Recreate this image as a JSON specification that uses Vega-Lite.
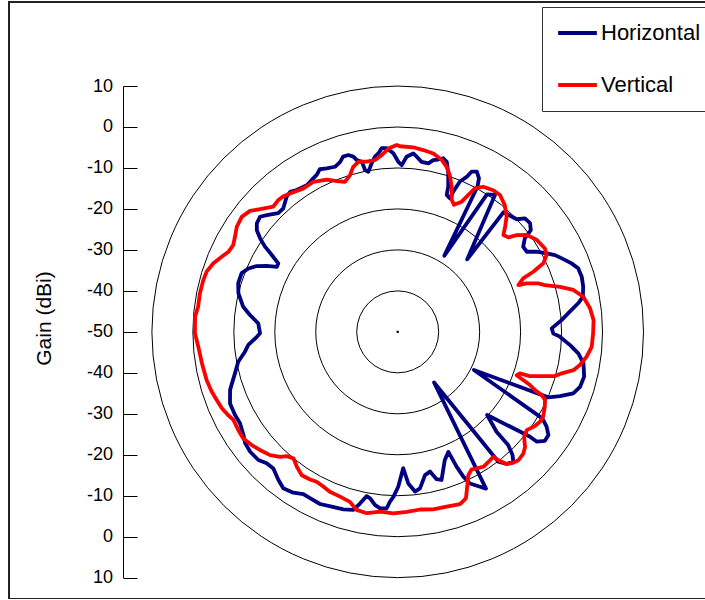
{
  "$schema": "https://vega.github.io/schema/vega-lite/v6.json",
  "width": 705,
  "height": 597,
  "autosize": "none",
  "padding": {"left": 9, "top": 2, "right": 0, "bottom": 0},
  "background": "white",
  "config": {
    "font": "Liberation Sans",
    "view": {"stroke": "#222222", "strokeWidth": 2},
    "legend": {
      "orient": "none",
      "legendX": 533,
      "legendY": 5,
      "symbolType": "stroke",
      "symbolSize": 1500,
      "symbolStrokeWidth": 4,
      "labelFontSize": 22,
      "labelFont": "Liberation Sans",
      "labelColor": "black",
      "labelOffset": 2,
      "labelLimit": 0,
      "clipHeight": 40,
      "rowPadding": 12,
      "padding": 6,
      "symbolOffset": 8,
      "strokeColor": "#333333",
      "fillColor": "white"
    }
  },
  "datasets": {
    "rings": [
      {"gain": -40}, {"gain": -30}, {"gain": -20}, {"gain": -10}, {"gain": 0}, {"gain": 10}
    ],
    "pattern": [
      {"pol": "Horizontal", "deg": 0.2, "dbi": -8.5},
      {"pol": "Horizontal", "deg": 1.4, "dbi": -9.3},
      {"pol": "Horizontal", "deg": 2.9, "dbi": -7.2},
      {"pol": "Horizontal", "deg": 5.0, "dbi": -6.3},
      {"pol": "Horizontal", "deg": 6.2, "dbi": -7.0},
      {"pol": "Horizontal", "deg": 8.0, "dbi": -8.1},
      {"pol": "Horizontal", "deg": 10.3, "dbi": -8.2},
      {"pol": "Horizontal", "deg": 11.7, "dbi": -7.2},
      {"pol": "Horizontal", "deg": 13.2, "dbi": -6.8},
      {"pol": "Horizontal", "deg": 14.7, "dbi": -6.2},
      {"pol": "Horizontal", "deg": 16.1, "dbi": -6.8},
      {"pol": "Horizontal", "deg": 17.7, "dbi": -9.4},
      {"pol": "Horizontal", "deg": 19.2, "dbi": -12.5},
      {"pol": "Horizontal", "deg": 19.7, "dbi": -14.5},
      {"pol": "Horizontal", "deg": 21.4, "dbi": -15.0},
      {"pol": "Horizontal", "deg": 21.6, "dbi": -13.2},
      {"pol": "Horizontal", "deg": 22.5, "dbi": -10.3},
      {"pol": "Horizontal", "deg": 24.0, "dbi": -8.6},
      {"pol": "Horizontal", "deg": 24.8, "dbi": -6.9},
      {"pol": "Horizontal", "deg": 26.3, "dbi": -6.4},
      {"pol": "Horizontal", "deg": 27.9, "dbi": -7.6},
      {"pol": "Horizontal", "deg": 28.8, "dbi": -9.6},
      {"pol": "Horizontal", "deg": 31.5, "dbi": -28.2},
      {"pol": "Horizontal", "deg": 33.0, "dbi": -10.0},
      {"pol": "Horizontal", "deg": 35.4, "dbi": -9.0},
      {"pol": "Horizontal", "deg": 43.8, "dbi": -25.5},
      {"pol": "Horizontal", "deg": 41.5, "dbi": -11.0},
      {"pol": "Horizontal", "deg": 46.6, "dbi": -10.0},
      {"pol": "Horizontal", "deg": 48.3, "dbi": -8.4},
      {"pol": "Horizontal", "deg": 50.6, "dbi": -8.2},
      {"pol": "Horizontal", "deg": 52.6, "dbi": -9.1},
      {"pol": "Horizontal", "deg": 53.7, "dbi": -11.5},
      {"pol": "Horizontal", "deg": 55.9, "dbi": -13.0},
      {"pol": "Horizontal", "deg": 58.2, "dbi": -12.9},
      {"pol": "Horizontal", "deg": 60.0, "dbi": -10.9},
      {"pol": "Horizontal", "deg": 62.2, "dbi": -8.9},
      {"pol": "Horizontal", "deg": 64.0, "dbi": -7.3},
      {"pol": "Horizontal", "deg": 65.9, "dbi": -6.1},
      {"pol": "Horizontal", "deg": 68.5, "dbi": -4.4},
      {"pol": "Horizontal", "deg": 70.6, "dbi": -3.3},
      {"pol": "Horizontal", "deg": 73.3, "dbi": -3.1},
      {"pol": "Horizontal", "deg": 76.3, "dbi": -3.4},
      {"pol": "Horizontal", "deg": 79.3, "dbi": -4.0},
      {"pol": "Horizontal", "deg": 81.0, "dbi": -5.4},
      {"pol": "Horizontal", "deg": 83.3, "dbi": -7.7},
      {"pol": "Horizontal", "deg": 85.9, "dbi": -9.9},
      {"pol": "Horizontal", "deg": 88.7, "dbi": -12.4},
      {"pol": "Horizontal", "deg": 90.6, "dbi": -12.0},
      {"pol": "Horizontal", "deg": 91.7, "dbi": -10.4},
      {"pol": "Horizontal", "deg": 94.4, "dbi": -7.8},
      {"pol": "Horizontal", "deg": 96.8, "dbi": -5.6},
      {"pol": "Horizontal", "deg": 99.6, "dbi": -4.0},
      {"pol": "Horizontal", "deg": 103.5, "dbi": -3.2},
      {"pol": "Horizontal", "deg": 106.8, "dbi": -3.5},
      {"pol": "Horizontal", "deg": 109.3, "dbi": -4.6},
      {"pol": "Horizontal", "deg": 111.6, "dbi": -7.4},
      {"pol": "Horizontal", "deg": 113.5, "dbi": -9.9},
      {"pol": "Horizontal", "deg": 116.6, "dbi": -29.2},
      {"pol": "Horizontal", "deg": 120.8, "dbi": -9.6},
      {"pol": "Horizontal", "deg": 121.2, "dbi": -8.5},
      {"pol": "Horizontal", "deg": 122.5, "dbi": -6.9},
      {"pol": "Horizontal", "deg": 124.4, "dbi": -5.4},
      {"pol": "Horizontal", "deg": 126.5, "dbi": -5.3},
      {"pol": "Horizontal", "deg": 128.3, "dbi": -6.8},
      {"pol": "Horizontal", "deg": 128.4, "dbi": -8.8},
      {"pol": "Horizontal", "deg": 128.9, "dbi": -10.6},
      {"pol": "Horizontal", "deg": 132.9, "dbi": -20.2},
      {"pol": "Horizontal", "deg": 135.3, "dbi": -15.7},
      {"pol": "Horizontal", "deg": 135.7, "dbi": -11.4},
      {"pol": "Horizontal", "deg": 137.0, "dbi": -8.9},
      {"pol": "Horizontal", "deg": 138.3, "dbi": -7.6},
      {"pol": "Horizontal", "deg": 140.5, "dbi": -8.2},
      {"pol": "Horizontal", "deg": 142.2, "dbi": -9.9},
      {"pol": "Horizontal", "deg": 144.3, "dbi": -34.8},
      {"pol": "Horizontal", "deg": 150.6, "dbi": -6.1},
      {"pol": "Horizontal", "deg": 152.0, "dbi": -7.2},
      {"pol": "Horizontal", "deg": 154.5, "dbi": -9.0},
      {"pol": "Horizontal", "deg": 155.6, "dbi": -11.2},
      {"pol": "Horizontal", "deg": 156.4, "dbi": -14.1},
      {"pol": "Horizontal", "deg": 157.1, "dbi": -18.2},
      {"pol": "Horizontal", "deg": 159.8, "dbi": -16.7},
      {"pol": "Horizontal", "deg": 163.5, "dbi": -12.3},
      {"pol": "Horizontal", "deg": 165.2, "dbi": -12.8},
      {"pol": "Horizontal", "deg": 167.0, "dbi": -15.0},
      {"pol": "Horizontal", "deg": 169.2, "dbi": -14.4},
      {"pol": "Horizontal", "deg": 171.9, "dbi": -11.4},
      {"pol": "Horizontal", "deg": 173.8, "dbi": -10.8},
      {"pol": "Horizontal", "deg": 176.0, "dbi": -12.9},
      {"pol": "Horizontal", "deg": 177.7, "dbi": -16.7},
      {"pol": "Horizontal", "deg": 179.8, "dbi": -12.2},
      {"pol": "Horizontal", "deg": 181.5, "dbi": -9.7},
      {"pol": "Horizontal", "deg": 182.6, "dbi": -8.5},
      {"pol": "Horizontal", "deg": 183.6, "dbi": -6.8},
      {"pol": "Horizontal", "deg": 185.7, "dbi": -6.7},
      {"pol": "Horizontal", "deg": 187.5, "dbi": -7.4},
      {"pol": "Horizontal", "deg": 189.4, "dbi": -8.8},
      {"pol": "Horizontal", "deg": 190.7, "dbi": -9.2},
      {"pol": "Horizontal", "deg": 192.4, "dbi": -7.1},
      {"pol": "Horizontal", "deg": 194.0, "dbi": -5.2},
      {"pol": "Horizontal", "deg": 197.0, "dbi": -4.7},
      {"pol": "Horizontal", "deg": 200.7, "dbi": -4.4},
      {"pol": "Horizontal", "deg": 204.3, "dbi": -3.9},
      {"pol": "Horizontal", "deg": 207.8, "dbi": -4.1},
      {"pol": "Horizontal", "deg": 210.2, "dbi": -4.2},
      {"pol": "Horizontal", "deg": 213.0, "dbi": -3.2},
      {"pol": "Horizontal", "deg": 216.2, "dbi": -2.7},
      {"pol": "Horizontal", "deg": 218.9, "dbi": -3.6},
      {"pol": "Horizontal", "deg": 222.3, "dbi": -4.9},
      {"pol": "Horizontal", "deg": 224.9, "dbi": -4.7},
      {"pol": "Horizontal", "deg": 227.4, "dbi": -3.8},
      {"pol": "Horizontal", "deg": 230.9, "dbi": -3.6},
      {"pol": "Horizontal", "deg": 233.9, "dbi": -3.9},
      {"pol": "Horizontal", "deg": 236.2, "dbi": -4.7},
      {"pol": "Horizontal", "deg": 239.9, "dbi": -5.5},
      {"pol": "Horizontal", "deg": 242.9, "dbi": -5.4},
      {"pol": "Horizontal", "deg": 246.9, "dbi": -5.5},
      {"pol": "Horizontal", "deg": 250.9, "dbi": -6.7},
      {"pol": "Horizontal", "deg": 255.7, "dbi": -9.0},
      {"pol": "Horizontal", "deg": 259.4, "dbi": -10.4},
      {"pol": "Horizontal", "deg": 262.6, "dbi": -12.4},
      {"pol": "Horizontal", "deg": 265.0, "dbi": -13.4},
      {"pol": "Horizontal", "deg": 268.0, "dbi": -15.6},
      {"pol": "Horizontal", "deg": 269.4, "dbi": -16.4},
      {"pol": "Horizontal", "deg": 273.5, "dbi": -15.9},
      {"pol": "Horizontal", "deg": 276.5, "dbi": -13.7},
      {"pol": "Horizontal", "deg": 279.2, "dbi": -11.8},
      {"pol": "Horizontal", "deg": 283.6, "dbi": -10.0},
      {"pol": "Horizontal", "deg": 286.9, "dbi": -9.3},
      {"pol": "Horizontal", "deg": 290.6, "dbi": -9.3},
      {"pol": "Horizontal", "deg": 293.0, "dbi": -10.4},
      {"pol": "Horizontal", "deg": 295.0, "dbi": -12.0},
      {"pol": "Horizontal", "deg": 296.7, "dbi": -14.2},
      {"pol": "Horizontal", "deg": 298.3, "dbi": -16.5},
      {"pol": "Horizontal", "deg": 299.8, "dbi": -16.4},
      {"pol": "Horizontal", "deg": 301.4, "dbi": -14.0},
      {"pol": "Horizontal", "deg": 302.7, "dbi": -11.5},
      {"pol": "Horizontal", "deg": 304.2, "dbi": -9.4},
      {"pol": "Horizontal", "deg": 305.8, "dbi": -7.6},
      {"pol": "Horizontal", "deg": 307.6, "dbi": -6.6},
      {"pol": "Horizontal", "deg": 309.9, "dbi": -6.2},
      {"pol": "Horizontal", "deg": 311.7, "dbi": -7.2},
      {"pol": "Horizontal", "deg": 314.8, "dbi": -8.9},
      {"pol": "Horizontal", "deg": 317.2, "dbi": -8.9},
      {"pol": "Horizontal", "deg": 320.6, "dbi": -7.3},
      {"pol": "Horizontal", "deg": 322.5, "dbi": -6.9},
      {"pol": "Horizontal", "deg": 324.5, "dbi": -7.5},
      {"pol": "Horizontal", "deg": 328.2, "dbi": -7.9},
      {"pol": "Horizontal", "deg": 330.5, "dbi": -7.4},
      {"pol": "Horizontal", "deg": 332.7, "dbi": -6.9},
      {"pol": "Horizontal", "deg": 334.4, "dbi": -6.0},
      {"pol": "Horizontal", "deg": 336.5, "dbi": -6.5},
      {"pol": "Horizontal", "deg": 339.2, "dbi": -6.9},
      {"pol": "Horizontal", "deg": 341.3, "dbi": -6.2},
      {"pol": "Horizontal", "deg": 342.7, "dbi": -5.2},
      {"pol": "Horizontal", "deg": 344.4, "dbi": -5.2},
      {"pol": "Horizontal", "deg": 345.8, "dbi": -5.9},
      {"pol": "Horizontal", "deg": 346.6, "dbi": -6.9},
      {"pol": "Horizontal", "deg": 348.1, "dbi": -7.6},
      {"pol": "Horizontal", "deg": 348.6, "dbi": -9.7},
      {"pol": "Horizontal", "deg": 349.6, "dbi": -10.3},
      {"pol": "Horizontal", "deg": 351.2, "dbi": -8.4},
      {"pol": "Horizontal", "deg": 352.6, "dbi": -6.9},
      {"pol": "Horizontal", "deg": 353.8, "dbi": -6.2},
      {"pol": "Horizontal", "deg": 355.0, "dbi": -5.0},
      {"pol": "Horizontal", "deg": 356.6, "dbi": -5.1},
      {"pol": "Horizontal", "deg": 358.6, "dbi": -6.4},
      {"pol": "Horizontal", "deg": 360.2, "dbi": -8.5},

      {"pol": "Vertical", "deg": 0.7, "dbi": -4.7},
      {"pol": "Vertical", "deg": 4.8, "dbi": -4.8},
      {"pol": "Vertical", "deg": 8.0, "dbi": -5.2},
      {"pol": "Vertical", "deg": 11.3, "dbi": -5.6},
      {"pol": "Vertical", "deg": 14.4, "dbi": -6.7},
      {"pol": "Vertical", "deg": 16.5, "dbi": -8.0},
      {"pol": "Vertical", "deg": 18.4, "dbi": -9.7},
      {"pol": "Vertical", "deg": 20.4, "dbi": -12.2},
      {"pol": "Vertical", "deg": 22.3, "dbi": -15.2},
      {"pol": "Vertical", "deg": 23.9, "dbi": -16.1},
      {"pol": "Vertical", "deg": 26.2, "dbi": -14.6},
      {"pol": "Vertical", "deg": 27.3, "dbi": -12.4},
      {"pol": "Vertical", "deg": 28.3, "dbi": -10.2},
      {"pol": "Vertical", "deg": 30.5, "dbi": -8.9},
      {"pol": "Vertical", "deg": 34.0, "dbi": -8.3},
      {"pol": "Vertical", "deg": 36.8, "dbi": -8.3},
      {"pol": "Vertical", "deg": 40.2, "dbi": -9.5},
      {"pol": "Vertical", "deg": 43.4, "dbi": -11.3},
      {"pol": "Vertical", "deg": 45.6, "dbi": -13.3},
      {"pol": "Vertical", "deg": 47.5, "dbi": -15.0},
      {"pol": "Vertical", "deg": 49.5, "dbi": -14.5},
      {"pol": "Vertical", "deg": 50.9, "dbi": -12.6},
      {"pol": "Vertical", "deg": 53.1, "dbi": -10.6},
      {"pol": "Vertical", "deg": 56.6, "dbi": -9.3},
      {"pol": "Vertical", "deg": 60.5, "dbi": -8.7},
      {"pol": "Vertical", "deg": 62.7, "dbi": -9.1},
      {"pol": "Vertical", "deg": 64.8, "dbi": -10.7},
      {"pol": "Vertical", "deg": 66.1, "dbi": -13.8},
      {"pol": "Vertical", "deg": 66.9, "dbi": -16.7},
      {"pol": "Vertical", "deg": 68.8, "dbi": -18.4},
      {"pol": "Vertical", "deg": 69.4, "dbi": -16.4},
      {"pol": "Vertical", "deg": 71.0, "dbi": -13.7},
      {"pol": "Vertical", "deg": 72.4, "dbi": -12.3},
      {"pol": "Vertical", "deg": 74.5, "dbi": -8.9},
      {"pol": "Vertical", "deg": 76.6, "dbi": -5.9},
      {"pol": "Vertical", "deg": 79.3, "dbi": -3.9},
      {"pol": "Vertical", "deg": 83.0, "dbi": -2.7},
      {"pol": "Vertical", "deg": 86.6, "dbi": -2.1},
      {"pol": "Vertical", "deg": 90.4, "dbi": -2.3},
      {"pol": "Vertical", "deg": 94.4, "dbi": -2.5},
      {"pol": "Vertical", "deg": 97.5, "dbi": -3.5},
      {"pol": "Vertical", "deg": 100.3, "dbi": -4.8},
      {"pol": "Vertical", "deg": 102.3, "dbi": -6.1},
      {"pol": "Vertical", "deg": 104.2, "dbi": -8.7},
      {"pol": "Vertical", "deg": 105.7, "dbi": -10.1},
      {"pol": "Vertical", "deg": 106.9, "dbi": -12.9},
      {"pol": "Vertical", "deg": 108.5, "dbi": -16.0},
      {"pol": "Vertical", "deg": 108.8, "dbi": -18.5},
      {"pol": "Vertical", "deg": 110.0, "dbi": -19.1},
      {"pol": "Vertical", "deg": 111.0, "dbi": -17.2},
      {"pol": "Vertical", "deg": 111.9, "dbi": -15.2},
      {"pol": "Vertical", "deg": 113.0, "dbi": -13.6},
      {"pol": "Vertical", "deg": 113.7, "dbi": -11.6},
      {"pol": "Vertical", "deg": 114.8, "dbi": -10.4},
      {"pol": "Vertical", "deg": 117.0, "dbi": -9.7},
      {"pol": "Vertical", "deg": 120.3, "dbi": -8.9},
      {"pol": "Vertical", "deg": 122.3, "dbi": -8.9},
      {"pol": "Vertical", "deg": 124.5, "dbi": -9.4},
      {"pol": "Vertical", "deg": 127.3, "dbi": -10.4},
      {"pol": "Vertical", "deg": 129.7, "dbi": -9.9},
      {"pol": "Vertical", "deg": 132.1, "dbi": -8.1},
      {"pol": "Vertical", "deg": 134.1, "dbi": -7.3},
      {"pol": "Vertical", "deg": 136.8, "dbi": -7.0},
      {"pol": "Vertical", "deg": 138.6, "dbi": -7.4},
      {"pol": "Vertical", "deg": 140.5, "dbi": -8.2},
      {"pol": "Vertical", "deg": 141.9, "dbi": -10.2},
      {"pol": "Vertical", "deg": 142.6, "dbi": -11.6},
      {"pol": "Vertical", "deg": 144.3, "dbi": -11.4},
      {"pol": "Vertical", "deg": 147.6, "dbi": -11.0},
      {"pol": "Vertical", "deg": 149.9, "dbi": -11.5},
      {"pol": "Vertical", "deg": 151.7, "dbi": -11.9},
      {"pol": "Vertical", "deg": 153.8, "dbi": -11.0},
      {"pol": "Vertical", "deg": 155.8, "dbi": -8.6},
      {"pol": "Vertical", "deg": 157.7, "dbi": -6.1},
      {"pol": "Vertical", "deg": 160.1, "dbi": -5.3},
      {"pol": "Vertical", "deg": 164.4, "dbi": -5.7},
      {"pol": "Vertical", "deg": 168.7, "dbi": -5.8},
      {"pol": "Vertical", "deg": 172.8, "dbi": -6.3},
      {"pol": "Vertical", "deg": 177.1, "dbi": -6.0},
      {"pol": "Vertical", "deg": 181.4, "dbi": -5.7},
      {"pol": "Vertical", "deg": 185.6, "dbi": -5.9},
      {"pol": "Vertical", "deg": 189.7, "dbi": -5.1},
      {"pol": "Vertical", "deg": 193.0, "dbi": -5.4},
      {"pol": "Vertical", "deg": 195.7, "dbi": -6.9},
      {"pol": "Vertical", "deg": 199.3, "dbi": -7.4},
      {"pol": "Vertical", "deg": 203.0, "dbi": -7.6},
      {"pol": "Vertical", "deg": 205.7, "dbi": -8.1},
      {"pol": "Vertical", "deg": 208.4, "dbi": -8.4},
      {"pol": "Vertical", "deg": 210.7, "dbi": -8.1},
      {"pol": "Vertical", "deg": 213.8, "dbi": -7.9},
      {"pol": "Vertical", "deg": 216.8, "dbi": -8.9},
      {"pol": "Vertical", "deg": 219.5, "dbi": -10.0},
      {"pol": "Vertical", "deg": 221.8, "dbi": -9.3},
      {"pol": "Vertical", "deg": 223.3, "dbi": -8.1},
      {"pol": "Vertical", "deg": 226.0, "dbi": -6.7},
      {"pol": "Vertical", "deg": 229.4, "dbi": -5.7},
      {"pol": "Vertical", "deg": 232.2, "dbi": -4.9},
      {"pol": "Vertical", "deg": 235.4, "dbi": -4.2},
      {"pol": "Vertical", "deg": 238.4, "dbi": -4.3},
      {"pol": "Vertical", "deg": 241.8, "dbi": -4.5},
      {"pol": "Vertical", "deg": 243.8, "dbi": -3.9},
      {"pol": "Vertical", "deg": 246.5, "dbi": -3.2},
      {"pol": "Vertical", "deg": 249.4, "dbi": -2.8},
      {"pol": "Vertical", "deg": 252.2, "dbi": -2.3},
      {"pol": "Vertical", "deg": 255.8, "dbi": -1.9},
      {"pol": "Vertical", "deg": 260.9, "dbi": -1.6},
      {"pol": "Vertical", "deg": 265.7, "dbi": -1.2},
      {"pol": "Vertical", "deg": 269.6, "dbi": -0.5},
      {"pol": "Vertical", "deg": 274.3, "dbi": -0.4},
      {"pol": "Vertical", "deg": 277.2, "dbi": -0.9},
      {"pol": "Vertical", "deg": 281.0, "dbi": -0.8},
      {"pol": "Vertical", "deg": 284.9, "dbi": -0.9},
      {"pol": "Vertical", "deg": 287.5, "dbi": -1.1},
      {"pol": "Vertical", "deg": 290.4, "dbi": -2.0},
      {"pol": "Vertical", "deg": 293.1, "dbi": -3.3},
      {"pol": "Vertical", "deg": 295.3, "dbi": -4.3},
      {"pol": "Vertical", "deg": 297.8, "dbi": -4.6},
      {"pol": "Vertical", "deg": 300.3, "dbi": -4.0},
      {"pol": "Vertical", "deg": 303.1, "dbi": -3.1},
      {"pol": "Vertical", "deg": 306.4, "dbi": -2.7},
      {"pol": "Vertical", "deg": 309.3, "dbi": -3.4},
      {"pol": "Vertical", "deg": 311.7, "dbi": -5.0},
      {"pol": "Vertical", "deg": 315.2, "dbi": -6.9},
      {"pol": "Vertical", "deg": 317.8, "dbi": -6.6},
      {"pol": "Vertical", "deg": 319.9, "dbi": -6.7},
      {"pol": "Vertical", "deg": 322.1, "dbi": -7.2},
      {"pol": "Vertical", "deg": 326.7, "dbi": -8.1},
      {"pol": "Vertical", "deg": 330.7, "dbi": -8.0},
      {"pol": "Vertical", "deg": 335.0, "dbi": -9.0},
      {"pol": "Vertical", "deg": 338.0, "dbi": -10.3},
      {"pol": "Vertical", "deg": 340.6, "dbi": -11.2},
      {"pol": "Vertical", "deg": 343.1, "dbi": -10.0},
      {"pol": "Vertical", "deg": 344.9, "dbi": -8.3},
      {"pol": "Vertical", "deg": 347.0, "dbi": -7.4},
      {"pol": "Vertical", "deg": 349.7, "dbi": -7.8},
      {"pol": "Vertical", "deg": 352.5, "dbi": -7.7},
      {"pol": "Vertical", "deg": 354.8, "dbi": -6.7},
      {"pol": "Vertical", "deg": 357.1, "dbi": -5.2},
      {"pol": "Vertical", "deg": 359.7, "dbi": -4.4},
      {"pol": "Vertical", "deg": 360.7, "dbi": -4.7}
    ]
  },
  "layer": [
    {
      "data": {"name": "rings"},
      "mark": {"type": "arc", "theta": 0, "theta2": 6.2832, "radius2": 0, "filled": false, "stroke": "black", "strokeWidth": 1},
      "encoding": {
        "x": {"datum": 0, "type": "quantitative", "scale": {"domain": [-60, 60], "range": [142.9, 634.5], "nice": false, "zero": false}, "axis": null},
        "y": {
          "datum": 0,
          "type": "quantitative",
          "scale": {"domain": [-60, 60], "range": [575.7, 84], "nice": false, "zero": false},
          "axis": {
            "title": "Gain (dBi)",
            "values": [-60, -50, -40, -30, -20, -10, 0, 10, 20, 30, 40, 50, 60],
            "labelExpr": "'' + (abs(datum.value) - 50)",
            "offset": -114,
            "grid": false,
            "domainColor": "black",
            "domainWidth": 1,
            "tickColor": "black",
            "tickWidth": 1,
            "tickSize": -14,
            "labelPadding": 24.5,
            "labelFontSize": 18,
            "labelFont": "Liberation Sans",
            "labelColor": "black",
            "labelAlign": "right",
            "labelBaseline": "middle",
            "labelFlush": false,
            "labelOverlap": false,
            "titleFont": "Liberation Sans",
            "titleFontSize": 21,
            "titleFontWeight": "normal",
            "titleColor": "black",
            "titleAngle": -90,
            "titleX": -79,
            "titleY": 316,
            "titleAlign": "center",
            "titleBaseline": "middle"
          }
        },
        "radius": {"field": "gain", "type": "quantitative", "stack": null, "scale": {"type": "linear", "domain": [-50, 10], "range": [0, 245.8], "zero": false, "nice": false}}
      }
    },
    {
      "data": {"values": [{"point": "origin"}]},
      "mark": {"type": "square", "size": 5, "color": "black", "opacity": 1},
      "encoding": {
        "x": {"datum": 0, "type": "quantitative"},
        "y": {"datum": 0, "type": "quantitative"}
      }
    },
    {
      "data": {"name": "pattern"},
      "transform": [
        {"window": [{"op": "row_number", "as": "seq"}]},
        {"calculate": "(datum.dbi + 50) * sin(datum.deg * PI / 180)", "as": "px"},
        {"calculate": "(datum.dbi + 50) * cos(datum.deg * PI / 180)", "as": "py"}
      ],
      "mark": {"type": "line", "strokeWidth": 3.8, "strokeJoin": "round", "strokeCap": "round"},
      "encoding": {
        "x": {"field": "px", "type": "quantitative"},
        "y": {"field": "py", "type": "quantitative"},
        "order": {"field": "seq", "type": "quantitative"},
        "color": {
          "field": "pol",
          "type": "nominal",
          "scale": {"domain": ["Horizontal", "Vertical"], "range": ["#000080", "#ff0000"]},
          "legend": {"title": null}
        }
      }
    }
  ]
}
